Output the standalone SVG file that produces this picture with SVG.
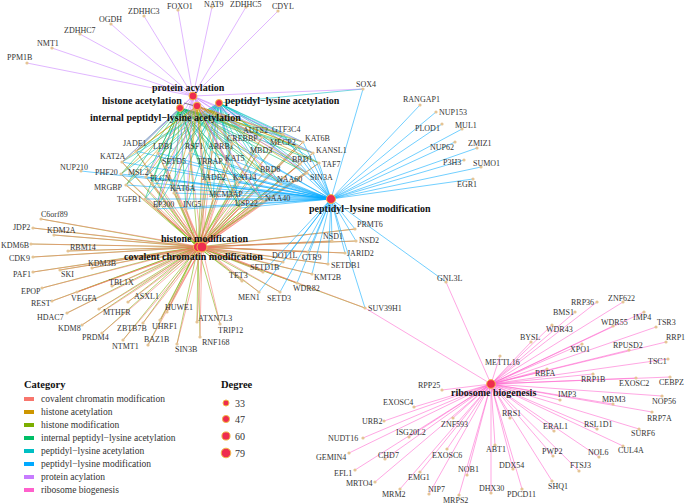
<svg xmlns="http://www.w3.org/2000/svg" width="685" height="504" viewBox="0 0 685 504">
<style>
.g{font-family:"Liberation Serif",serif;font-size:8px;fill:#333;dominant-baseline:central}
.c{font-family:"Liberation Serif",serif;font-size:10px;font-weight:bold;fill:#111;dominant-baseline:central}
.e{fill:none;stroke-width:0.7;stroke-opacity:0.8}
.d{fill:#E5C494}
.n{fill:#EE2C4F;stroke:#F2BB48;stroke-width:1}
.lt{font-family:"Liberation Serif",serif;font-size:9.5px;fill:#333;dominant-baseline:central}
.lh{font-family:"Liberation Serif",serif;font-size:10.5px;font-weight:bold;fill:#111;dominant-baseline:central}
</style>
<rect width="685" height="504" fill="#fff"/>
<g id="connectors">
<path class="e" stroke="#7CAE00" d="M136 151L198 247M158 153L198 247M190 153L198 247M212 152L198 247M232 144L198 247M262 137L198 247M283 134L198 247M303 142L198 247M297 146L198 247M256 156L198 247M313 153L198 247M300 164L198 247M319 163L198 247M122 162L198 247M166 167L198 247M202 167L198 247M229 164L198 247M263 174L198 247M307 173L198 247M121 174L198 247M146 177L198 247M152 183L198 247M205 182L198 247M237 182L198 247M281 184L198 247M126 185L198 247M174 193L198 247M213 199L198 247M263 201L198 247M145 199L198 247M156 209L198 247M186 209L198 247M240 208L198 247M355 229L198 247M332 241L198 247M356 241L198 247M345 253L198 247M283 262L198 247M308 252L198 247M328 264L198 247M263 272L198 247M312 274L198 247M242 281L198 247M297 283L198 247M259 292L198 247M280 292L198 247M365 308L198 247M41 219L198 247M33 228L198 247M54 235L198 247M31 244L198 247M68 251L198 247M33 257L198 247M92 268L198 247M33 272L198 247M60 270L198 247M112 286L198 247M42 288L198 247M77 292L198 247M128 302L198 247M52 301L198 247M67 313L198 247M99 309L198 247M167 312L198 247M197 322L198 247M82 325L198 247M143 323L198 247M160 320L198 247M220 324L198 247M102 333L198 247M123 340L198 247M148 345L198 247M177 344L198 247M200 337L198 247"/>
<path class="e" stroke="#F8766D" d="M136 151L202 247M158 153L202 247M190 153L202 247M212 152L202 247M232 144L202 247M262 137L202 247M283 134L202 247M303 142L202 247M297 146L202 247M256 156L202 247M313 153L202 247M300 164L202 247M319 163L202 247M122 162L202 247M166 167L202 247M202 167L202 247M229 164L202 247M263 174L202 247M307 173L202 247M121 174L202 247M146 177L202 247M152 183L202 247M205 182L202 247M237 182L202 247M281 184L202 247M126 185L202 247M174 193L202 247M213 199L202 247M263 201L202 247M145 199L202 247M156 209L202 247M186 209L202 247M240 208L202 247M355 229L202 247M332 241L202 247M356 241L202 247M345 253L202 247M283 262L202 247M308 252L202 247M328 264L202 247M263 272L202 247M312 274L202 247M242 281L202 247M297 283L202 247M259 292L202 247M280 292L202 247M365 308L202 247M41 219L202 247M33 228L202 247M54 235L202 247M31 244L202 247M68 251L202 247M33 257L202 247M92 268L202 247M33 272L202 247M60 270L202 247M112 286L202 247M42 288L202 247M77 292L202 247M128 302L202 247M52 301L202 247M67 313L202 247M99 309L202 247M167 312L202 247M197 322L202 247M82 325L202 247M143 323L202 247M160 320L202 247M220 324L202 247M102 333L202 247M123 340L202 247M148 345L202 247M177 344L202 247M200 337L202 247"/>
<path class="e" stroke="#00A9FF" d="M136 151L331 199M158 153L331 199M190 153L331 199M212 152L331 199M232 144L331 199M262 137L331 199M283 134L331 199M303 142L331 199M297 146L331 199M256 156L331 199M313 153L331 199M300 164L331 199M319 163L331 199M122 162L331 199M166 167L331 199M202 167L331 199M229 164L331 199M263 174L331 199M307 173L331 199M121 174L331 199M146 177L331 199M152 183L331 199M205 182L331 199M237 182L331 199M281 184L331 199M126 185L331 199M174 193L331 199M213 199L331 199M263 201L331 199M145 199L331 199M156 209L331 199M186 209L331 199M240 208L331 199M363 89L331 199M420 105L331 199M436 112L331 199M442 124L331 199M462 129L331 199M455 142L331 199M477 148L331 199M464 160L331 199M481 167L331 199M473 179L331 199M81 171L331 199M446 282L331 199M355 229L331 199M332 241L331 199M356 241L331 199M345 253L331 199M283 262L331 199M308 252L331 199M328 264L331 199M263 272L331 199M312 274L331 199M297 283L331 199M259 292L331 199M280 292L331 199M365 308L331 199"/>
<path class="e" stroke="#00BE67" d="M136 151L180 108M158 153L180 108M190 153L180 108M212 152L180 108M232 144L180 108M262 137L180 108M283 134L180 108M303 142L180 108M297 146L180 108M256 156L180 108M313 153L180 108M300 164L180 108M319 163L180 108M122 162L180 108M166 167L180 108M202 167L180 108M229 164L180 108M263 174L180 108M307 173L180 108M121 174L180 108M146 177L180 108M152 183L180 108M205 182L180 108M237 182L180 108M281 184L180 108M126 185L180 108M174 193L180 108M213 199L180 108M263 201L180 108M145 199L180 108M156 209L180 108M186 209L180 108M240 208L180 108"/>
<path class="e" stroke="#00BFC4" d="M136 151L219 103M158 153L219 103M190 153L219 103M212 152L219 103M232 144L219 103M262 137L219 103M283 134L219 103M303 142L219 103M297 146L219 103M256 156L219 103M313 153L219 103M300 164L219 103M319 163L219 103M122 162L219 103M166 167L219 103M202 167L219 103M229 164L219 103M263 174L219 103M307 173L219 103M121 174L219 103M146 177L219 103M152 183L219 103M205 182L219 103M237 182L219 103M281 184L219 103M126 185L219 103M174 193L219 103M213 199L219 103M263 201L219 103M145 199L219 103M156 209L219 103M186 209L219 103M240 208L219 103M363 89L219 103"/>
<path class="e" stroke="#CD9600" d="M136 151L197 106M190 153L197 106M232 144L197 106M262 137L197 106M283 134L197 106M303 142L197 106M297 146L197 106M313 153L197 106M300 164L197 106M319 163L197 106M122 162L197 106M166 167L197 106M202 167L197 106M229 164L197 106M263 174L197 106M307 173L197 106M121 174L197 106M146 177L197 106M205 182L197 106M237 182L197 106M281 184L197 106M126 185L197 106M174 193L197 106M213 199L197 106M263 201L197 106M156 209L197 106M186 209L197 106M240 208L197 106"/>
<path class="e" stroke="#C77CFF" d="M27 63L193 96M52 48L193 96M80 34L193 96M111 24L193 96M144 16L193 96M178 10L193 96M212 7L193 96M246 7L193 96M278 11L193 96M363 89L193 96M122 162L193 96M229 164L193 96M174 193L193 96M303 142L193 96M237 182L193 96M156 209L193 96M232 144L193 96M281 184L193 96M263 201L193 96M186 209L193 96M136 151L193 96M300 164L193 96M313 153L193 96M146 177L193 96M205 182L193 96M307 173L193 96"/>
<path class="e" stroke="#FF61CC" d="M597 302L491 384M623 302L491 384M575 312L491 384M644 312L491 384M613 326L491 384M656 327L491 384M552 325L491 384M531 342L491 384M582 344L491 384M629 350L491 384M666 342L491 384M500 356L491 384M668 359L491 384M547 369L491 384M593 374L491 384M636 378L491 384M670 377L491 384M560 400L491 384M613 404L491 384M662 396L491 384M652 412L491 384M510 418L491 384M554 431L491 384M597 429L491 384M639 429L491 384M623 446L491 384M495 445L491 384M553 456L491 384M599 457L491 384M513 469L491 384M579 471L491 384M467 475L491 384M491 493L491 384M522 489L491 384M552 481L491 384M459 495L491 384M453 418L491 384M447 449L491 384M442 390L491 384M414 407L491 384M384 421L491 384M409 437L491 384M363 438L491 384M349 453L491 384M385 459L491 384M355 470L491 384M420 472L491 384M375 482L491 384M429 494L491 384M400 489L491 384M446 282L491 384M365 308L491 384"/>
<path fill="none" stroke="#333" stroke-width="0.6" d="M184 103L195 106"/>
</g>
<g id="genes">
<g id="n-PPM1B"><circle class="d" cx="27" cy="63" r="1.6"/><text class="g" x="7" y="57">PPM1B</text></g>
<g id="n-NMT1"><circle class="d" cx="52" cy="48" r="1.6"/><text class="g" x="37" y="43">NMT1</text></g>
<g id="n-ZDHHC7"><circle class="d" cx="80" cy="34" r="1.6"/><text class="g" x="64" y="30">ZDHHC7</text></g>
<g id="n-OGDH"><circle class="d" cx="111" cy="24" r="1.6"/><text class="g" x="99" y="19">OGDH</text></g>
<g id="n-ZDHHC3"><circle class="d" cx="144" cy="16" r="1.6"/><text class="g" x="128" y="11">ZDHHC3</text></g>
<g id="n-FOXO1"><circle class="d" cx="178" cy="10" r="1.6"/><text class="g" x="167" y="6">FOXO1</text></g>
<g id="n-NAT9"><circle class="d" cx="212" cy="7" r="1.6"/><text class="g" x="204" y="4">NAT9</text></g>
<g id="n-ZDHHC5"><circle class="d" cx="246" cy="7" r="1.6"/><text class="g" x="230" y="4">ZDHHC5</text></g>
<g id="n-CDYL"><circle class="d" cx="278" cy="11" r="1.6"/><text class="g" x="272" y="6">CDYL</text></g>
<g id="n-SOX4"><circle class="d" cx="363" cy="89" r="1.6"/><text class="g" x="356" y="84">SOX4</text></g>
<g id="n-RANGAP1"><circle class="d" cx="420" cy="105" r="1.6"/><text class="g" x="403" y="99">RANGAP1</text></g>
<g id="n-NUP153"><circle class="d" cx="436" cy="112" r="1.6"/><text class="g" x="439" y="112">NUP153</text></g>
<g id="n-PLOD1"><circle class="d" cx="442" cy="124" r="1.6"/><text class="g" x="415" y="128">PLOD1</text></g>
<g id="n-MUL1"><circle class="d" cx="462" cy="129" r="1.6"/><text class="g" x="455" y="125">MUL1</text></g>
<g id="n-NUP62"><circle class="d" cx="455" cy="142" r="1.6"/><text class="g" x="430" y="147">NUP62</text></g>
<g id="n-ZMIZ1"><circle class="d" cx="477" cy="148" r="1.6"/><text class="g" x="468" y="143">ZMIZ1</text></g>
<g id="n-P3H3"><circle class="d" cx="464" cy="160" r="1.6"/><text class="g" x="443" y="162">P3H3</text></g>
<g id="n-SUMO1"><circle class="d" cx="481" cy="167" r="1.6"/><text class="g" x="473" y="163">SUMO1</text></g>
<g id="n-EGR1"><circle class="d" cx="473" cy="179" r="1.6"/><text class="g" x="457" y="184">EGR1</text></g>
<g id="n-NUP210"><circle class="d" cx="81" cy="171" r="1.6"/><text class="g" x="60" y="167">NUP210</text></g>
<g id="n-GNL3L"><circle class="d" cx="446" cy="282" r="1.6"/><text class="g" x="437" y="278">GNL3L</text></g>
<g id="n-PRMT6"><circle class="d" cx="355" cy="229" r="1.6"/><text class="g" x="357" y="224">PRMT6</text></g>
<g id="n-NSD1"><circle class="d" cx="332" cy="241" r="1.6"/><text class="g" x="323" y="236">NSD1</text></g>
<g id="n-NSD2"><circle class="d" cx="356" cy="241" r="1.6"/><text class="g" x="359" y="240">NSD2</text></g>
<g id="n-JARID2"><circle class="d" cx="345" cy="253" r="1.6"/><text class="g" x="347" y="253">JARID2</text></g>
<g id="n-DOT1L"><circle class="d" cx="283" cy="262" r="1.6"/><text class="g" x="272" y="255">DOT1L</text></g>
<g id="n-CTR9"><circle class="d" cx="308" cy="252" r="1.6"/><text class="g" x="302" y="257">CTR9</text></g>
<g id="n-SETDB1"><circle class="d" cx="328" cy="264" r="1.6"/><text class="g" x="331" y="265">SETDB1</text></g>
<g id="n-SETD1B"><circle class="d" cx="263" cy="272" r="1.6"/><text class="g" x="250" y="267">SETD1B</text></g>
<g id="n-KMT2B"><circle class="d" cx="312" cy="274" r="1.6"/><text class="g" x="314" y="277">KMT2B</text></g>
<g id="n-TET3"><circle class="d" cx="242" cy="281" r="1.6"/><text class="g" x="229" y="275">TET3</text></g>
<g id="n-WDR82"><circle class="d" cx="297" cy="283" r="1.6"/><text class="g" x="293" y="288">WDR82</text></g>
<g id="n-MEN1"><circle class="d" cx="259" cy="292" r="1.6"/><text class="g" x="238" y="297">MEN1</text></g>
<g id="n-SETD3"><circle class="d" cx="280" cy="292" r="1.6"/><text class="g" x="267" y="298">SETD3</text></g>
<g id="n-SUV39H1"><circle class="d" cx="365" cy="308" r="1.6"/><text class="g" x="368" y="308">SUV39H1</text></g>
<g id="n-C6orf89"><circle class="d" cx="41" cy="219" r="1.6"/><text class="g" x="41" y="214">C6orf89</text></g>
<g id="n-JDP2"><circle class="d" cx="33" cy="228" r="1.6"/><text class="g" x="13" y="227">JDP2</text></g>
<g id="n-KDM2A"><circle class="d" cx="54" cy="235" r="1.6"/><text class="g" x="47" y="230">KDM2A</text></g>
<g id="n-KDM6B"><circle class="d" cx="31" cy="244" r="1.6"/><text class="g" x="1" y="245">KDM6B</text></g>
<g id="n-RBM14"><circle class="d" cx="68" cy="251" r="1.6"/><text class="g" x="70" y="247">RBM14</text></g>
<g id="n-CDK9"><circle class="d" cx="33" cy="257" r="1.6"/><text class="g" x="9" y="258">CDK9</text></g>
<g id="n-KDM3B"><circle class="d" cx="92" cy="268" r="1.6"/><text class="g" x="88" y="263">KDM3B</text></g>
<g id="n-PAF1"><circle class="d" cx="33" cy="272" r="1.6"/><text class="g" x="13" y="274">PAF1</text></g>
<g id="n-SKI"><circle class="d" cx="60" cy="270" r="1.6"/><text class="g" x="61" y="274">SKI</text></g>
<g id="n-TBL1X"><circle class="d" cx="112" cy="286" r="1.6"/><text class="g" x="109" y="282">TBL1X</text></g>
<g id="n-EPOP"><circle class="d" cx="42" cy="288" r="1.6"/><text class="g" x="21" y="291">EPOP</text></g>
<g id="n-VEGFA"><circle class="d" cx="77" cy="292" r="1.6"/><text class="g" x="71" y="298">VEGFA</text></g>
<g id="n-ASXL1"><circle class="d" cx="128" cy="302" r="1.6"/><text class="g" x="134" y="296">ASXL1</text></g>
<g id="n-REST"><circle class="d" cx="52" cy="301" r="1.6"/><text class="g" x="31" y="303">REST</text></g>
<g id="n-HDAC7"><circle class="d" cx="67" cy="313" r="1.6"/><text class="g" x="37" y="317">HDAC7</text></g>
<g id="n-MTHFR"><circle class="d" cx="99" cy="309" r="1.6"/><text class="g" x="103" y="312">MTHFR</text></g>
<g id="n-HUWE1"><circle class="d" cx="167" cy="312" r="1.6"/><text class="g" x="165" y="307">HUWE1</text></g>
<g id="n-ATXN7L3"><circle class="d" cx="197" cy="322" r="1.6"/><text class="g" x="198" y="318">ATXN7L3</text></g>
<g id="n-KDM8"><circle class="d" cx="82" cy="325" r="1.6"/><text class="g" x="58" y="328">KDM8</text></g>
<g id="n-ZBTB7B"><circle class="d" cx="143" cy="323" r="1.6"/><text class="g" x="117" y="328">ZBTB7B</text></g>
<g id="n-UHRF1"><circle class="d" cx="160" cy="320" r="1.6"/><text class="g" x="152" y="326">UHRF1</text></g>
<g id="n-TRIP12"><circle class="d" cx="220" cy="324" r="1.6"/><text class="g" x="218" y="330">TRIP12</text></g>
<g id="n-PRDM4"><circle class="d" cx="102" cy="333" r="1.6"/><text class="g" x="82" y="337">PRDM4</text></g>
<g id="n-NTMT1"><circle class="d" cx="123" cy="340" r="1.6"/><text class="g" x="112" y="346">NTMT1</text></g>
<g id="n-BAZ1B"><circle class="d" cx="148" cy="345" r="1.6"/><text class="g" x="144" y="339">BAZ1B</text></g>
<g id="n-SIN3B"><circle class="d" cx="177" cy="344" r="1.6"/><text class="g" x="175" y="349">SIN3B</text></g>
<g id="n-RNF168"><circle class="d" cx="200" cy="337" r="1.6"/><text class="g" x="202" y="342">RNF168</text></g>
<g id="n-JADE1"><circle class="d" cx="136" cy="151" r="1.6"/><text class="g" x="123" y="143">JADE1</text></g>
<g id="n-LDB1"><circle class="d" cx="158" cy="153" r="1.6"/><text class="g" x="153" y="146">LDB1</text></g>
<g id="n-RSF1"><circle class="d" cx="190" cy="153" r="1.6"/><text class="g" x="185" y="146">RSF1</text></g>
<g id="n-ARRB1"><circle class="d" cx="212" cy="152" r="1.6"/><text class="g" x="208" y="146.5">ARRB1</text></g>
<g id="n-CREBBP"><circle class="d" cx="232" cy="144" r="1.6"/><text class="g" x="227" y="138.3">CREBBP</text></g>
<g id="n-AUTS2"><circle class="d" cx="262" cy="137" r="1.6"/><text class="g" x="243" y="130">AUTS2</text></g>
<g id="n-GTF3C4"><circle class="d" cx="283" cy="134" r="1.6"/><text class="g" x="272" y="129">GTF3C4</text></g>
<g id="n-KAT6B"><circle class="d" cx="303" cy="142" r="1.6"/><text class="g" x="305" y="138">KAT6B</text></g>
<g id="n-MECP2"><circle class="d" cx="297" cy="146" r="1.6"/><text class="g" x="270" y="142">MECP2</text></g>
<g id="n-MBD3"><circle class="d" cx="256" cy="156" r="1.6"/><text class="g" x="250" y="150">MBD3</text></g>
<g id="n-KANSL1"><circle class="d" cx="313" cy="153" r="1.6"/><text class="g" x="316" y="150">KANSL1</text></g>
<g id="n-BRD1"><circle class="d" cx="300" cy="164" r="1.6"/><text class="g" x="292" y="159">BRD1</text></g>
<g id="n-TAF7"><circle class="d" cx="319" cy="163" r="1.6"/><text class="g" x="322" y="164">TAF7</text></g>
<g id="n-KAT2A"><circle class="d" cx="122" cy="162" r="1.6"/><text class="g" x="100" y="156">KAT2A</text></g>
<g id="n-SETD5"><circle class="d" cx="166" cy="167" r="1.6"/><text class="g" x="162" y="161">SETD5</text></g>
<g id="n-TRRAP"><circle class="d" cx="202" cy="167" r="1.6"/><text class="g" x="197" y="161">TRRAP</text></g>
<g id="n-KAT5"><circle class="d" cx="229" cy="164" r="1.6"/><text class="g" x="225" y="158">KAT5</text></g>
<g id="n-BRD8"><circle class="d" cx="263" cy="174" r="1.6"/><text class="g" x="260" y="169">BRD8</text></g>
<g id="n-SIN3A"><circle class="d" cx="307" cy="173" r="1.6"/><text class="g" x="310" y="177">SIN3A</text></g>
<g id="n-PHF20"><circle class="d" cx="121" cy="174" r="1.6"/><text class="g" x="95" y="172">PHF20</text></g>
<g id="n-MSL2"><circle class="d" cx="146" cy="177" r="1.6"/><text class="g" x="128" y="172">MSL2</text></g>
<g id="n-FLCN"><circle class="d" cx="152" cy="183" r="1.6"/><text class="g" x="150" y="178">FLCN</text></g>
<g id="n-JADE2"><circle class="d" cx="205" cy="182" r="1.6"/><text class="g" x="202" y="177">JADE2</text></g>
<g id="n-KAT14"><circle class="d" cx="237" cy="182" r="1.6"/><text class="g" x="233" y="177">KAT14</text></g>
<g id="n-NAA60"><circle class="d" cx="281" cy="184" r="1.6"/><text class="g" x="277" y="179">NAA60</text></g>
<g id="n-MRGBP"><circle class="d" cx="126" cy="185" r="1.6"/><text class="g" x="94" y="187">MRGBP</text></g>
<g id="n-KAT6A"><circle class="d" cx="174" cy="193" r="1.6"/><text class="g" x="170" y="188">KAT6A</text></g>
<g id="n-MCM3AP"><circle class="d" cx="213" cy="199" r="1.6"/><text class="g" x="209" y="194">MCM3AP</text></g>
<g id="n-NAA40"><circle class="d" cx="263" cy="201" r="1.6"/><text class="g" x="265" y="198">NAA40</text></g>
<g id="n-TGFB1"><circle class="d" cx="145" cy="199" r="1.6"/><text class="g" x="117" y="199">TGFB1</text></g>
<g id="n-EP300"><circle class="d" cx="156" cy="209" r="1.6"/><text class="g" x="153" y="204">EP300</text></g>
<g id="n-ING5"><circle class="d" cx="186" cy="209" r="1.6"/><text class="g" x="183" y="204">ING5</text></g>
<g id="n-USP22"><circle class="d" cx="240" cy="208" r="1.6"/><text class="g" x="235" y="203">USP22</text></g>
<g id="n-RRP36"><circle class="d" cx="597" cy="302" r="1.6"/><text class="g" x="571" y="302">RRP36</text></g>
<g id="n-ZNF622"><circle class="d" cx="623" cy="302" r="1.6"/><text class="g" x="608" y="298">ZNF622</text></g>
<g id="n-BMS1"><circle class="d" cx="575" cy="312" r="1.6"/><text class="g" x="553" y="312">BMS1</text></g>
<g id="n-IMP4"><circle class="d" cx="644" cy="312" r="1.6"/><text class="g" x="633" y="317">IMP4</text></g>
<g id="n-WDR55"><circle class="d" cx="613" cy="326" r="1.6"/><text class="g" x="601" y="322">WDR55</text></g>
<g id="n-TSR3"><circle class="d" cx="656" cy="327" r="1.6"/><text class="g" x="657" y="322">TSR3</text></g>
<g id="n-WDR43"><circle class="d" cx="552" cy="325" r="1.6"/><text class="g" x="546" y="329">WDR43</text></g>
<g id="n-BYSL"><circle class="d" cx="531" cy="342" r="1.6"/><text class="g" x="520" y="337">BYSL</text></g>
<g id="n-XPO1"><circle class="d" cx="582" cy="344" r="1.6"/><text class="g" x="570" y="349">XPO1</text></g>
<g id="n-RPUSD2"><circle class="d" cx="629" cy="350" r="1.6"/><text class="g" x="613" y="345">RPUSD2</text></g>
<g id="n-RRP1"><circle class="d" cx="666" cy="342" r="1.6"/><text class="g" x="666" y="337">RRP1</text></g>
<g id="n-METTL16"><circle class="d" cx="500" cy="356" r="1.6"/><text class="g" x="485" y="362">METTL16</text></g>
<g id="n-TSC1"><circle class="d" cx="668" cy="359" r="1.6"/><text class="g" x="648" y="361">TSC1</text></g>
<g id="n-RBFA"><circle class="d" cx="547" cy="369" r="1.6"/><text class="g" x="535" y="373">RBFA</text></g>
<g id="n-RRP1B"><circle class="d" cx="593" cy="374" r="1.6"/><text class="g" x="581" y="379">RRP1B</text></g>
<g id="n-EXOSC2"><circle class="d" cx="636" cy="378" r="1.6"/><text class="g" x="619" y="383">EXOSC2</text></g>
<g id="n-CEBPZ"><circle class="d" cx="670" cy="377" r="1.6"/><text class="g" x="659" y="382">CEBPZ</text></g>
<g id="n-IMP3"><circle class="d" cx="560" cy="400" r="1.6"/><text class="g" x="558" y="394">IMP3</text></g>
<g id="n-MRM3"><circle class="d" cx="613" cy="404" r="1.6"/><text class="g" x="602" y="399">MRM3</text></g>
<g id="n-NOP56"><circle class="d" cx="662" cy="396" r="1.6"/><text class="g" x="652" y="401">NOP56</text></g>
<g id="n-RRP7A"><circle class="d" cx="652" cy="412" r="1.6"/><text class="g" x="647" y="418">RRP7A</text></g>
<g id="n-RRS1"><circle class="d" cx="510" cy="418" r="1.6"/><text class="g" x="502" y="413">RRS1</text></g>
<g id="n-ERAL1"><circle class="d" cx="554" cy="431" r="1.6"/><text class="g" x="543" y="426">ERAL1</text></g>
<g id="n-RSL1D1"><circle class="d" cx="597" cy="429" r="1.6"/><text class="g" x="584" y="424">RSL1D1</text></g>
<g id="n-SURF6"><circle class="d" cx="639" cy="429" r="1.6"/><text class="g" x="631" y="433">SURF6</text></g>
<g id="n-CUL4A"><circle class="d" cx="623" cy="446" r="1.6"/><text class="g" x="618" y="450">CUL4A</text></g>
<g id="n-ABT1"><circle class="d" cx="495" cy="445" r="1.6"/><text class="g" x="486" y="449">ABT1</text></g>
<g id="n-PWP2"><circle class="d" cx="553" cy="456" r="1.6"/><text class="g" x="542" y="451">PWP2</text></g>
<g id="n-NOL6"><circle class="d" cx="599" cy="457" r="1.6"/><text class="g" x="588" y="452">NOL6</text></g>
<g id="n-DDX54"><circle class="d" cx="513" cy="469" r="1.6"/><text class="g" x="499" y="465">DDX54</text></g>
<g id="n-FTSJ3"><circle class="d" cx="579" cy="471" r="1.6"/><text class="g" x="570" y="465">FTSJ3</text></g>
<g id="n-NOB1"><circle class="d" cx="467" cy="475" r="1.6"/><text class="g" x="458" y="469">NOB1</text></g>
<g id="n-DHX30"><circle class="d" cx="491" cy="493" r="1.6"/><text class="g" x="479" y="488">DHX30</text></g>
<g id="n-PDCD11"><circle class="d" cx="522" cy="489" r="1.6"/><text class="g" x="507" y="494">PDCD11</text></g>
<g id="n-SHQ1"><circle class="d" cx="552" cy="481" r="1.6"/><text class="g" x="548" y="486">SHQ1</text></g>
<g id="n-MRPS2"><circle class="d" cx="459" cy="495" r="1.6"/><text class="g" x="443" y="500">MRPS2</text></g>
<g id="n-ZNF593"><circle class="d" cx="453" cy="418" r="1.6"/><text class="g" x="441" y="424">ZNF593</text></g>
<g id="n-EXOSC6"><circle class="d" cx="447" cy="449" r="1.6"/><text class="g" x="432" y="455">EXOSC6</text></g>
<g id="n-RPP25"><circle class="d" cx="442" cy="390" r="1.6"/><text class="g" x="418" y="385">RPP25</text></g>
<g id="n-EXOSC4"><circle class="d" cx="414" cy="407" r="1.6"/><text class="g" x="383" y="402">EXOSC4</text></g>
<g id="n-URB2"><circle class="d" cx="384" cy="421" r="1.6"/><text class="g" x="362" y="421">URB2</text></g>
<g id="n-ISG20L2"><circle class="d" cx="409" cy="437" r="1.6"/><text class="g" x="396" y="432">ISG20L2</text></g>
<g id="n-NUDT16"><circle class="d" cx="363" cy="438" r="1.6"/><text class="g" x="328" y="438">NUDT16</text></g>
<g id="n-GEMIN4"><circle class="d" cx="349" cy="453" r="1.6"/><text class="g" x="316" y="457">GEMIN4</text></g>
<g id="n-CHD7"><circle class="d" cx="385" cy="459" r="1.6"/><text class="g" x="378" y="455">CHD7</text></g>
<g id="n-EFL1"><circle class="d" cx="355" cy="470" r="1.6"/><text class="g" x="334" y="473">EFL1</text></g>
<g id="n-EMG1"><circle class="d" cx="420" cy="472" r="1.6"/><text class="g" x="408" y="477">EMG1</text></g>
<g id="n-MRTO4"><circle class="d" cx="375" cy="482" r="1.6"/><text class="g" x="346" y="483">MRTO4</text></g>
<g id="n-NIP7"><circle class="d" cx="429" cy="494" r="1.6"/><text class="g" x="428" y="489">NIP7</text></g>
<g id="n-MRM2"><circle class="d" cx="400" cy="489" r="1.6"/><text class="g" x="382" y="494">MRM2</text></g>
</g>
<g id="categories">
<g id="c-protein-acylation"><circle class="n" cx="193" cy="96" r="4"/><text class="c" x="152" y="87">protein acylation</text></g>
<g id="c-histone-acetylation"><circle class="n" cx="197" cy="106" r="3.8"/><text class="c" x="102" y="100">histone acetylation</text></g>
<g id="c-internal"><circle class="n" cx="180" cy="108" r="3.5"/><text class="c" x="90" y="117">internal peptidyl−lysine acetylation</text></g>
<g id="c-pla"><circle class="n" cx="219" cy="103" r="3.5"/><text class="c" x="225" y="100">peptidyl−lysine acetylation</text></g>
<g id="c-plm"><circle class="n" cx="331" cy="199" r="4.5"/><text class="c" x="309" y="208">peptidyl−lysine modification</text></g>
<g id="c-hm"><circle class="n" cx="198" cy="247" r="4.6"/><text class="c" x="161" y="238">histone modification</text></g>
<g id="c-ccm"><circle class="n" cx="202" cy="247" r="5"/><text class="c" x="124" y="256">covalent chromatin modification</text></g>
<g id="c-rb"><circle class="n" cx="491" cy="384" r="4.4"/><text class="c" x="451" y="392">ribosome biogenesis</text></g>
</g>
<g id="legend-category">
<text class="lh" x="24" y="384">Category</text>
<rect x="24" y="397" width="10" height="4" fill="#F8766D"/><text class="lt" x="41" y="399">covalent chromatin modification</text>
<rect x="24" y="410" width="10" height="4" fill="#CD9600"/><text class="lt" x="41" y="412">histone acetylation</text>
<rect x="24" y="423" width="10" height="4" fill="#7CAE00"/><text class="lt" x="41" y="425">histone modification</text>
<rect x="24" y="436" width="10" height="4" fill="#00BE67"/><text class="lt" x="41" y="438">internal peptidyl−lysine acetylation</text>
<rect x="24" y="449" width="10" height="4" fill="#00BFC4"/><text class="lt" x="41" y="451">peptidyl−lysine acetylation</text>
<rect x="24" y="462" width="10" height="4" fill="#00A9FF"/><text class="lt" x="41" y="464">peptidyl−lysine modification</text>
<rect x="24" y="475" width="10" height="4" fill="#C77CFF"/><text class="lt" x="41" y="477">protein acylation</text>
<rect x="24" y="488" width="10" height="4" fill="#FF61CC"/><text class="lt" x="41" y="490">ribosome biogenesis</text>
</g>
<g id="legend-degree">
<text class="lh" x="221" y="384">Degree</text>
<circle class="n" cx="226" cy="403" r="3"/><text class="lt" x="235" y="403" style="font-size:10px">33</text>
<circle class="n" cx="226" cy="419" r="3.6"/><text class="lt" x="235" y="419" style="font-size:10px">47</text>
<circle class="n" cx="226" cy="436" r="4.1"/><text class="lt" x="235" y="436" style="font-size:10px">60</text>
<circle class="n" cx="226" cy="453" r="4.8"/><text class="lt" x="235" y="453" style="font-size:10px">79</text>
</g>
</svg>
